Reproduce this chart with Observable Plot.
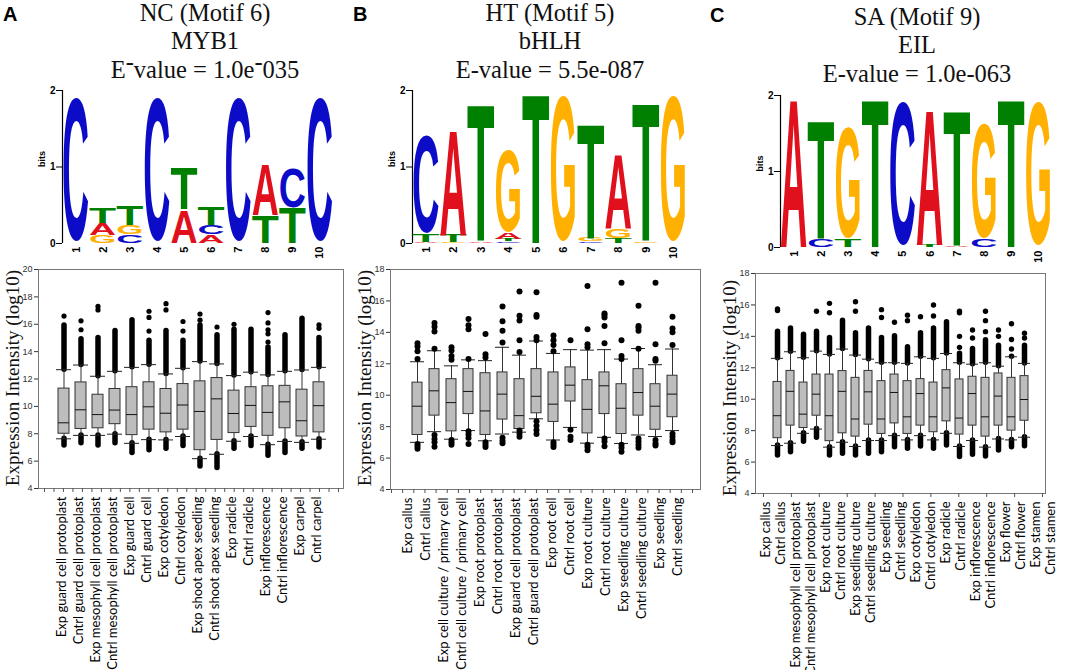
<!DOCTYPE html>
<html><head><meta charset="utf-8">
<script src="https://cdn.jsdelivr.net/npm/d3@7"></script>
<script src="https://cdn.jsdelivr.net/npm/@observablehq/plot@0.6"></script>
<style>
body{margin:0;background:#fff;}
#fig{position:relative;width:1065px;height:670px;overflow:hidden;background:#fff;}
.box{position:absolute;}
.title{position:absolute;font-family:"Liberation Serif","Times New Roman",serif;font-size:24.5px;line-height:24.5px;white-space:nowrap;transform:translateX(-50%);color:#111;}
.plab{position:absolute;font-family:"Liberation Sans",Arial,sans-serif;font-weight:bold;font-size:20px;line-height:20px;color:#000;}
.ylab{position:absolute;font-family:"Liberation Serif","Times New Roman",serif;font-size:19px;line-height:19px;white-space:nowrap;transform:translate(-50%,-50%) rotate(-90deg);color:#111;}
.up{position:relative;top:-0.3em;}
</style></head><body><div id="fig"></div><script>
// ---------- data ----------
const titlesA = ["NC (Motif 6)", "MYB1", "E<span class='up'>-</span>value = 1.0e<span class='up'>-</span>035"];
const titlesB = ["HT (Motif 5)", "bHLH", "E-value = 5.5e-087"];
const titlesC = ["SA (Motif 9)", "EIL", "E-value = 1.0e-063"];
const yTitle = "Expression Intensity (log10)";

// sequence logos: per position, stacked [base, bits] from bottom to top
const logoA = [
  [["C",1.98]],
  [["G",0.10],["A",0.16],["T",0.20]],
  [["C",0.11],["G",0.12],["T",0.26]],
  [["C",1.98]],
  [["A",0.44],["T",0.56]],
  [["A",0.11],["C",0.13],["T",0.24]],
  [["C",1.98]],
  [["T",0.37],["A",0.67]],
  [["T",0.46],["C",0.54]],
  [["C",1.98]]
];
const logoB = [
  [["A",0.01],["T",0.10],["C",1.35]],
  [["G",0.01],["T",0.10],["A",1.41]],
  [["A",0.02],["T",1.83]],
  [["C",0.02],["T",0.03],["A",0.08],["G",1.13]],
  [["T",1.99]],
  [["G",2.0]],
  [["C",0.02],["G",0.05],["T",1.52]],
  [["T",0.06],["G",0.12],["A",0.99]],
  [["G",0.02],["T",1.84]],
  [["G",2.0]]
];
const logoC = [
  [["A",2.0]],
  [["C",0.10],["T",1.59]],
  [["T",0.10],["G",1.54]],
  [["T",1.99]],
  [["C",2.0]],
  [["T",0.03],["A",1.82]],
  [["A",0.02],["T",1.82]],
  [["C",0.10],["G",1.59]],
  [["T",1.99]],
  [["G",2.0]]
];
const baseColors = {A:"#e0101c", C:"#0c0cc8", G:"#ffb000", T:"#008000"};

// box plots: [lower whisker, Q1, median, Q3, upper whisker]
const labelsA = ["Exp guard cell protoplast","Cntrl guard cell protoplast","Exp mesophyll cell protoplast","Cntrl mesophyll cell protoplast","Exp guard cell","Cntrl guard cell","Exp cotyledon","Cntrl cotyledon","Exp shoot apex seedling","Cntrl shoot apex seedling","Exp radicle","Cntrl radicle","Exp inflorescence","Cntrl inflorescence","Exp carpel","Cntrl carpel"];
const statsA = [
  [7.63,8.0,8.8,11.3,12.68],[7.88,8.35,9.75,11.75,13.02],[7.88,8.4,9.4,10.85,12.2],[7.97,8.7,9.73,11.27,12.56],
  [7.3,7.9,9.4,11.4,12.85],[7.57,8.3,9.97,11.76,13.05],[7.55,8.1,9.5,11.27,12.37],[7.8,8.3,10.1,11.63,12.78],
  [6.18,6.8,9.63,11.83,13.27],[6.5,7.55,10.55,12.07,13.1],[7.45,8.05,9.48,11.15,12.25],[7.8,8.5,10.07,11.4,12.5],
  [7.2,7.85,9.56,11.47,12.3],[7.44,8.4,10.33,11.5,12.56],[7.37,7.8,8.95,11.22,12.66],[7.6,8.1,10.05,11.76,12.85]
];
const lowDenseA = [7.15,7.3,7.15,7.3,6.6,6.8,6.9,7.1,5.6,5.5,6.9,7.1,6.4,6.6,6.9,7.0];
const highDenseA = [15.9,14.9,15.0,15.5,16.3,14.8,15.5,14.8,15.9,15.2,15.6,15.6,14.3,15.2,16.4,15.0];
const outliersA = [[16.6],[15.6,16.25],[17.05,17.3],[],[],[15.5,16.5,16.95],[17.05,17.5],[15.5,16.2],[16.3,16.75],[15.8],[16.0],[],[14.7,15.3,15.6,16.1,16.85],[],[],[15.7,15.95]];

const labelsB = ["Exp callus","Cntrl callus","Exp cell culture / primary cell","Cntrl cell culture / primary cell","Exp root protoplast","Cntrl root protoplast","Exp guard cell protoplast","Cntrl guard cell protoplast","Exp root cell","Cntrl root cell","Exp root culture","Cntrl root culture","Exp seedling culture","Cntrl seedling culture","Exp seedling","Cntrl seedling"];
const statsB = [
  [7.0,7.47,9.3,10.8,12.13],[7.68,8.7,10.28,11.66,12.83],[7.2,7.7,9.53,11.02,11.87],[7.75,8.8,10.24,11.66,12.25],
  [7.1,7.47,9.0,11.4,12.2],[7.53,8.45,10.07,11.45,13.05],[7.65,7.85,8.7,11.02,12.55],[8.5,8.85,9.93,11.66,13.45],
  [7.15,8.3,9.43,11.45,12.66],[7.95,9.6,10.64,11.77,12.9],[6.95,7.57,9.1,10.96,12.87],[7.32,8.8,10.6,11.45,12.9],
  [6.93,7.53,9.17,10.7,12.3],[7.47,8.7,10.17,11.66,12.97],[7.37,7.8,9.3,10.7,11.94],[7.75,8.6,10.07,11.24,12.94]
];
const outliersB = [
  [6.9,6.75,6.6,12.3,12.8,13.1,13.3],[7.47,7.21,7.0,6.72,12.95,14.05,14.35,14.6],[7.15,7.0,6.85,12.25,12.5,12.85,13.05],[7.7,7.5,7.28,6.9,12.3,14.2,14.45,14.85],
  [7.0,6.85,6.7,12.4,12.6,13.9],[7.3,7.1,6.95,13.35,14.1,14.7,15.65],[7.75,7.55,7.35,12.75,13.5,14.75,15.05,16.6],[8.34,8.06,7.79,7.53,13.7,13.5,15.0,15.1,16.55],
  [7.0,6.85,6.7,12.8,13.2,13.5,13.8],[7.8,7.35,7.15,13.5],[6.85,6.7,6.5,13.05,13.25,14.2,16.95],[7.25,7.05,6.75,13.3,14.4,14.95,15.1,15.2],
  [6.85,6.65,6.4,12.3,12.5,13.5,17.15],[7.25,7.05,6.85,6.65,12.95,14.1,14.3,14.4,15.7],[7.15,6.95,6.8,12.2,12.3,13.25,17.15],[7.55,7.35,7.15,7.0,13.2,14.0,14.25,15.0]
];

const labelsC = ["Exp callus","Cntrl callus","Exp mesophyll cell protoplast","Cntrl mesophyll cell protoplast","Exp root culture","Cntrl root culture","Exp seedling culture","Cntrl seedling culture","Exp seedling","Cntrl seedling","Exp cotyledon","Cntrl cotyledon","Exp radicle","Cntrl radicle","Exp inflorescence","Cntrl inflorescence","Exp flower","Cntrl flower","Exp stamen","Cntrl stamen"];
const statsC = [
  [7.05,7.52,8.95,11.1,12.6],[7.2,8.32,10.5,11.8,13.02],[7.83,8.17,9.05,11.06,12.64],[8.1,8.95,10.32,11.57,13.06],
  [6.95,7.33,8.95,11.57,12.85],[7.26,7.83,10.5,11.79,13.19],[6.99,7.62,8.74,11.36,12.81],[7.37,8.38,10.47,11.8,12.55],
  [7.37,7.79,8.74,11.15,12.32],[7.68,8.46,10.43,11.57,12.32],[7.41,7.79,8.88,11.15,12.28],[7.68,8.32,10.36,11.28,12.7],
  [7.41,7.9,8.88,11.06,12.6],[7.83,8.59,10.72,11.85,12.91],[6.99,7.75,8.8,11.26,12.32],[7.37,8.32,10.36,11.43,12.23],
  [6.95,7.62,8.88,11.36,12.32],[7.47,8.32,10.2,11.64,12.1],[7.41,8.0,8.88,11.36,12.7],[7.58,8.63,9.98,11.47,12.28]
];
const lowDenseC = [6.42,6.63,7.3,7.54,6.42,6.53,6.42,6.53,6.63,6.95,6.84,6.99,6.84,7.05,6.32,6.46,6.36,6.74,6.95,7.01];
const highDenseC = [14.3,14.5,14.1,14.3,13.9,15.0,14.2,14.5,13.9,14.0,13.3,14.2,14.5,14.9,12.9,13.2,13.75,13.4,12.7,13.4];
const outliersC = [[15.65,15.75],[],[],[15.6],[15.5,16.1],[],[15.6,16.2],[],[15.2,15.7],[14.9],[15.0,15.35],[15.25],[15.3,16.0],[],[13.3,14.0,15.5,15.6],[13.9,14.4],[14.3,15.0,15.6],[14.0,14.4],[13.2,13.8,14.8],[13.9,14.2]];

// number of minor tick intervals along each category axis (as drawn in the source figure)
const tickIntervalsA = 31, tickIntervalsB = 27, tickIntervalsC = 10;

// ---------- helpers ----------
const fig = document.getElementById("fig");
function place(node, left, top, width) {
  const d = document.createElement("div");
  d.className = "box"; d.style.left = left + "px"; d.style.top = top + "px"; d.style.width = width + "px";
  d.appendChild(node); fig.appendChild(d);
}
function html(cls, left, top, content) {
  const d = document.createElement("div");
  d.className = cls; d.style.left = left + "px"; d.style.top = top + "px"; d.innerHTML = content;
  fig.appendChild(d);
}
const glyph = {A:[0,0.716], T:[0,0.716], C:[-0.02,0.73], G:[-0.02,0.73]};

function logoPlot(cols, cfg) {
  const rows = [];
  cols.forEach((stack, i) => { let y = 0; for (const [b, h] of stack) { rows.push({pos: i + 1, base: b, y0: y, y1: y + h}); y += h; } });
  const letters = (index, scales) => {
    const g = d3.create("svg:g").attr("text-anchor", "start");
    for (const r of rows) {
      const xl = scales.x(r.pos - 0.5), xr = scales.x(r.pos + 0.5);
      const yb = scales.y(r.y0), yt = scales.y(r.y1);
      const [lo, hi] = glyph[r.base];
      const F = (yb - yt) / (hi - lo);
      if (!(F > 0)) continue;
      g.append("text")
        .attr("x", xl).attr("y", yb + lo * F).attr("text-anchor", "start")
        .attr("font-size", F).attr("font-family", "Liberation Sans, Arial, sans-serif").attr("font-weight", "bold")
        .attr("textLength", xr - xl).attr("lengthAdjust", "spacingAndGlyphs")
        .attr("fill", baseColors[r.base]).text(r.base);
    }
    return g.node();
  };
  return Plot.plot({
    width: cfg.width, height: cfg.height,
    marginLeft: cfg.ml, marginRight: cfg.mr, marginTop: cfg.mt, marginBottom: cfg.mb,
    x: {domain: [0.5, 10.5], axis: null},
    y: {domain: [0, 2], axis: null},
    style: {fontFamily: "Liberation Sans, Arial, sans-serif", fontWeight: "bold", fontSize: "10px", color: "#000", background: "transparent", overflow: "visible"},
    marks: [
      Plot.axisY({ticks: [0, 1, 2], tickSize: 6, tickPadding: 1, label: null, tickFormat: d => d}),
      Plot.ruleX([0.5], {y1: 0, y2: 2, stroke: "#000", strokeWidth: 1.2}),
      Plot.axisX({ticks: d3.range(1, 11), tickSize: 0, tickRotate: -90, tickPadding: 3, label: null, tickFormat: d => d, fontSize: 11}),
      letters,
      Plot.text(["bits"], {frameAnchor: "left", dx: -20, rotate: -90, fontSize: 9, fontWeight: "bold"})
    ]
  });
}

function boxPlot(labels, stats, lowDense, highDense, outliers, cfg) {
  const rows = labels.map((c, i) => ({cat: c, lo: stats[i][0], q1: stats[i][1], med: stats[i][2], q3: stats[i][3], hi: stats[i][4],
    lowD: lowDense ? lowDense[i] : null, highD: highDense ? highDense[i] : null}));
  const dots = outliers.flatMap((arr, i) => arr.map(v => ({cat: labels[i], v})));
  const marks = [Plot.axisY({ticks: d3.range(cfg.ydom[0], cfg.ydom[1] + 1, 2), tickSize: 4, tickPadding: 2, label: null, fontSize: 9})];
  if (lowDense) {
    marks.push(Plot.ruleX(rows, {x: "cat", y1: "lo", y2: "lowD", stroke: "#000", strokeWidth: cfg.dw, strokeLinecap: "round"}));
    marks.push(Plot.ruleX(rows, {x: "cat", y1: "hi", y2: "highD", stroke: "#000", strokeWidth: cfg.dw, strokeLinecap: "round"}));
  }
  marks.push(
    Plot.ruleX(rows, {x: "cat", y1: "lo", y2: "q1", stroke: "#333"}),
    Plot.ruleX(rows, {x: "cat", y1: "q3", y2: "hi", stroke: "#333"}),
    Plot.tickY(rows, {x: "cat", y: "lo", stroke: "#222", insetLeft: -2, insetRight: -2}),
    Plot.tickY(rows, {x: "cat", y: "hi", stroke: "#222", insetLeft: -2, insetRight: -2}),
    Plot.barY(rows, {x: "cat", y1: "q1", y2: "q3", fill: "#bdbdbd", stroke: "#333", strokeWidth: 1}),
    Plot.tickY(rows, {x: "cat", y: "med", stroke: "#111"}),
    Plot.dot(dots, {x: "cat", y: "v", r: cfg.r, fill: "#000", stroke: "none"}),
    Plot.frame({stroke: "#777"})
  );
  return Plot.plot({
    width: cfg.width, height: cfg.height,
    marginLeft: cfg.ml, marginRight: cfg.mr, marginTop: cfg.mt, marginBottom: cfg.mb,
    x: {type: "band", domain: labels, paddingInner: cfg.pi, paddingOuter: cfg.po, axis: null},
    y: {domain: cfg.ydom},
    style: {fontFamily: "Liberation Sans, Arial, sans-serif", fontSize: "9px", color: "#333", background: "transparent", overflow: "visible"},
    marks
  });
}

function labelAxis(labels, cfg) {
  return Plot.plot({
    width: cfg.width, height: 182, marginTop: 0, marginBottom: 181, marginLeft: 0, marginRight: 0,
    x: {type: "point", domain: labels, range: cfg.range, padding: 0, axis: null},
    style: {fontFamily: "Lato, 'Open Sans', sans-serif", fontSize: "13px", color: "#000", background: "transparent", overflow: "visible"},
    marks: [Plot.axisX({tickRotate: -90, tickSize: 0, tickPadding: 8, label: null, fontSize: 13})]
  });
}

function tickAxis(n, cfg) {
  return Plot.plot({
    width: cfg.width, height: 8, marginTop: 0, marginBottom: 7, marginLeft: 0, marginRight: 0,
    x: {domain: [0, n], range: cfg.range, axis: null},
    style: {background: "transparent", overflow: "visible", color: "#555"},
    marks: [Plot.axisX({ticks: d3.range(n + 1), tickSize: 4, tickFormat: () => "", label: null})]
  });
}

// ---------- titles ----------
html("plab", 3, 4, "A"); html("plab", 353, 4, "B"); html("plab", 710, 5, "C");
[[titlesA, 205, 0.5], [titlesB, 550, 0.5], [titlesC, 917, 4.5]].forEach(([t, cx, top]) => {
  t.forEach((s, i) => html("title", cx, top + 28.5 * i, s));
});

// ---------- logos ----------
place(logoPlot(logoA, {width: 345, height: 185, ml: 62, mr: 12, mt: 10, mb: 22}), 0, 80, 345);
place(logoPlot(logoB, {width: 345, height: 185, ml: 62, mr: 8, mt: 10, mb: 22}), 350, 80, 345);
place(logoPlot(logoC, {width: 347, height: 185, ml: 62, mr: 13, mt: 10, mb: 23}), 718, 85, 347);

// ---------- box plots ----------
place(boxPlot(labelsA, statsA, lowDenseA, highDenseA, outliersA, {width: 350, height: 240, ml: 38, mr: 7, mt: 10, mb: 11, pi: 0.36, po: 1.07, ydom: [4, 20], r: 2.6, dw: 5.5}), 0, 259, 350);
place(boxPlot(labelsB, statsB, null, null, outliersB, {width: 353, height: 240, ml: 38, mr: 5, mt: 10, mb: 10, pi: 0.39, po: 1.03, ydom: [4, 18], r: 3, dw: 6}), 352, 259, 353);
place(boxPlot(labelsC, statsC, lowDenseC, highDenseC, outliersC, {width: 325, height: 240, ml: 33, mr: 2, mt: 10, mb: 10, pi: 0.39, po: 1.23, ydom: [4, 18], r: 2.7, dw: 5.5}), 722, 263, 325);

place(tickAxis(tickIntervalsA, {width: 350, range: [44, 338]}), 0, 487, 350);
place(tickAxis(tickIntervalsB, {width: 353, range: [39, 340]}), 352, 488, 353);
place(tickAxis(tickIntervalsC, {width: 365, range: [63, 342]}), 700, 492, 365);

place(labelAxis(labelsA, {width: 350, range: [57, 320]}), 0, 487, 350);
place(labelAxis(labelsB, {width: 353, range: [55, 325]}), 352, 488, 353);
place(labelAxis(labelsC, {width: 365, range: [62, 352]}), 700, 492, 365);

// ---------- y titles ----------
html("ylab", 12, 378, yTitle);
html("ylab", 364, 378, yTitle);
html("ylab", 729, 388, yTitle);
</script></body></html>
